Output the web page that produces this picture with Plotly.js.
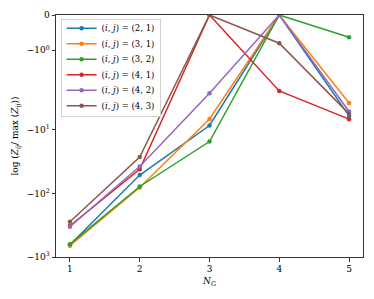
<!DOCTYPE html>
<html><head><meta charset="utf-8">
<script src="https://cdn.plot.ly/plotly-3.0.1.min.js"></script>
<style>html,body{margin:0;padding:0;background:#fff}#c{width:374px;height:299px}</style>
</head><body><div id="c"></div>
<script>
const NG = [1, 2, 3, 4, 5];
const labels = ["(2, 1)", "(3, 1)", "(3, 2)", "(4, 1)", "(4, 2)", "(4, 3)"];
const colors = ["#1f77b4", "#ff7f0e", "#2ca02c", "#d62728", "#9467bd", "#8c564b"];
const s21 = [-640, -51.3, -8.5, 0, -6.0];
const s31 = [-664, -80.4, -6.7, 0, -3.75];
const s32 = [-628, -77.6, -15.2, 0, -0.63];
const s41 = [-322, -41.6, 0, -2.43, -6.76];
const s42 = [-333, -37.6, -2.64, 0, -5.13];
const s43 = [-279, -26.7, 0, -0.80, -5.58];
const series = [s21, s31, s32, s41, s42, s43];
const yTickVals = [0, -1, -10, -100, -1000];
const yTickText = ["0", "−10<sup>0</sup>", "−10<sup>1</sup>", "−10<sup>2</sup>", "−10<sup>3</sup>"];

// matplotlib-style symlog transform (base 10, linthresh 2, linscale 1)
const L = 2, base = 10, lsAdj = 1 / (1 - 1 / base);
function symlog(v) {
  const a = Math.abs(v);
  if (a <= L) return v / L * lsAdj;
  return Math.sign(v) * (lsAdj + Math.log10(a / L));
}

const traces = series.map((s, k) => ({
  x: NG, y: s.map(symlog), type: "scatter", mode: "lines+markers",
  name: "(<i>i</i>, <i>j</i>) = " + labels[k],
  line: {color: colors[k], width: 1.5},
  marker: {color: colors[k], size: 4.5}
}));

const font = {family: "DejaVu Serif, Liberation Serif, serif", size: 9, color: "#000"};
const layout = {
  width: 374, height: 299,
  margin: {l: 56, r: 11, t: 15, b: 42},
  paper_bgcolor: "#fff", plot_bgcolor: "#fff",
  font: font,
  showlegend: true,
  legend: {x: 0.015, y: 0.985, xanchor: "left", yanchor: "top",
    bgcolor: "rgba(255,255,255,0.8)", bordercolor: "#d0d0d0", borderwidth: 1,
    font: {family: font.family, size: 8.5}, tracegroupgap: 0, itemwidth: 30},
  xaxis: {range: [0.8, 5.2], tickvals: NG, ticktext: NG.map(String),
    showgrid: false, zeroline: false, showline: true, linecolor: "#333", linewidth: 1, mirror: true,
    ticks: "outside", ticklen: 3.5, tickcolor: "#333",
    title: {text: "<i>N</i><sub>G</sub>", font: {family: font.family, size: 9}, standoff: 4}},
  yaxis: {range: [symlog(-1000), 0], tickvals: yTickVals.map(symlog), ticktext: yTickText,
    showgrid: false, zeroline: false, showline: true, linecolor: "#333", linewidth: 1, mirror: true,
    ticks: "outside", ticklen: 3.5, tickcolor: "#333",
    title: {text: "log (<i>Z</i><sub><i>ij</i></sub>/ max (<i>Z</i><sub><i>ij</i></sub>))", font: {family: font.family, size: 9}, standoff: 6}}
};
Plotly.newPlot("c", traces, layout, {displayModeBar: false, staticPlot: true}).then(gd => {
  // tighten legend row spacing to match the compact reference legend
  const items = gd.querySelectorAll(".legend .traces");
  const first = 9.5, step = 15.5;
  items.forEach((el, i) => {
    const m = /translate\(([^,]+),\s*([^)]+)\)/.exec(el.getAttribute("transform") || "");
    const tx = m ? parseFloat(m[1]) : 0;
    el.setAttribute("transform", "translate(" + tx + "," + (first + i * step) + ")");
  });
  const h = first + (items.length - 1) * step + 10;
  gd.querySelectorAll(".legend rect.bg").forEach(r => r.setAttribute("height", h));
});
</script></body></html>
